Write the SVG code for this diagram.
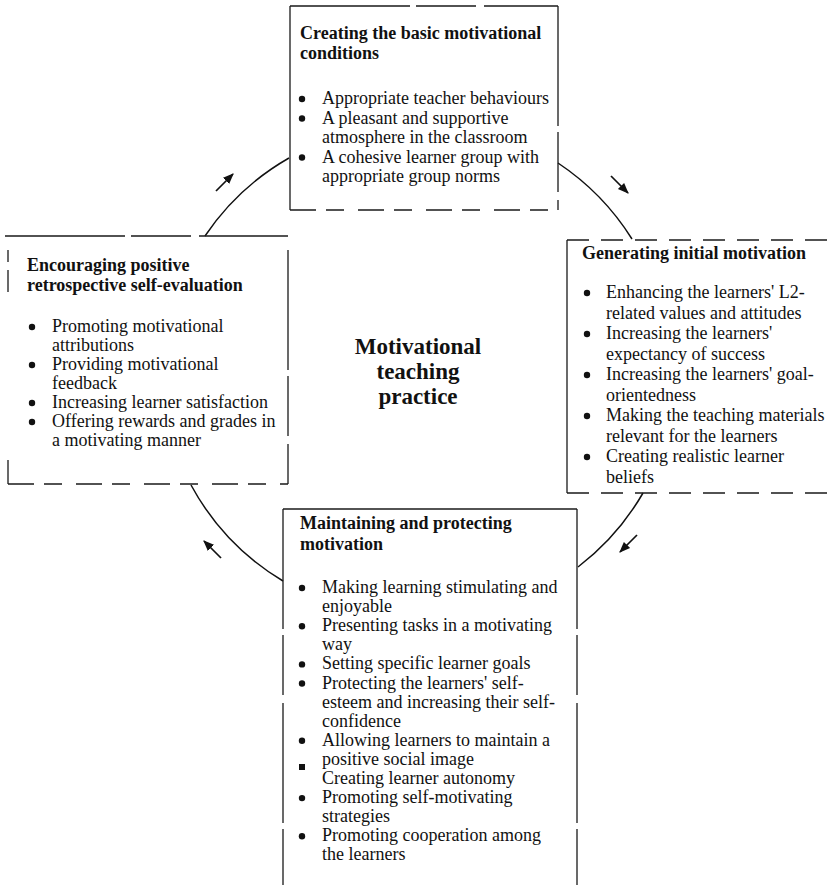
<svg xmlns="http://www.w3.org/2000/svg" width="834" height="885" viewBox="0 0 834 885">
<style>
text{font-family:"Liberation Serif","Times New Roman",serif;fill:#111;}
.t{font-size:18px;font-weight:bold;}
.b{font-size:18px;}
.c{font-size:23px;font-weight:bold;text-anchor:middle;}
.e{stroke:#1a1a1a;stroke-width:1.3;fill:none;}
.d1{stroke-dasharray:26 10 18 14;}
.d2{stroke-dasharray:22 12;}
.d3{stroke-dasharray:120 6 60 8;}
.arc{stroke:#111;stroke-width:1.5;fill:none;}
.ar{stroke:#111;stroke-width:1.7;marker-end:url(#ah);}
.bu{fill:#111;}
</style>
<defs>
<marker id="ah" viewBox="0 0 10 10" markerWidth="11" markerHeight="11" markerUnits="userSpaceOnUse" refX="9" refY="5" orient="auto">
<path d="M0,1 L10,5 L0,9 z" fill="#111"/>
</marker>
</defs>
<rect width="834" height="885" fill="#fff"/>

<g id="connectors">
<path class="arc" d="M205,236 A252,252 0 0 1 289,158"/>
<path class="arc" d="M558,163 A252,252 0 0 1 632,239"/>
<path class="arc" d="M643,493 A252,252 0 0 1 578,567"/>
<path class="arc" d="M283,581 A252,252 0 0 1 191,485"/>
<line class="ar" x1="216" y1="191" x2="233" y2="174"/>
<line class="ar" x1="611" y1="176" x2="628" y2="193"/>
<line class="ar" x1="637" y1="535" x2="620" y2="552"/>
<line class="ar" x1="221" y1="558" x2="204" y2="541"/>
</g>

<g id="node-top">
<line class="e d3" x1="290" y1="6" x2="558" y2="6"/>
<line class="e" x1="290" y1="6" x2="290" y2="210"/>
<line class="e d3" x1="558" y1="6" x2="558" y2="210"/>
<line class="e d1" x1="290" y1="210" x2="558" y2="210"/>
<text class="t" x="300" y="39">Creating the basic motivational</text>
<text class="t" x="300" y="59">conditions</text>
<circle class="bu" cx="302" cy="99" r="3.2"/>
<text class="b" x="322" y="104">Appropriate teacher behaviours</text>
<circle class="bu" cx="302" cy="118.5" r="3.2"/>
<text class="b" x="322" y="123.5">A pleasant and supportive</text>
<text class="b" x="322" y="143">atmosphere in the classroom</text>
<circle class="bu" cx="302" cy="157.5" r="3.2"/>
<text class="b" x="322" y="162.5">A cohesive learner group with</text>
<text class="b" x="322" y="182">appropriate group norms</text>
</g>

<g id="node-left">
<line class="e d3" x1="5" y1="236" x2="288" y2="236"/>
<path class="e" d="M8,250 V262 M8,270 V292 M8,460 V484"/>
<line class="e d3" x1="288" y1="250" x2="288" y2="484"/>
<line class="e d1" x1="8" y1="484" x2="288" y2="484"/>
<text class="t" x="27" y="271">Encouraging positive</text>
<text class="t" x="27" y="291">retrospective self-evaluation</text>
<circle class="bu" cx="32" cy="327" r="3.2"/>
<text class="b" x="52" y="332">Promoting motivational</text>
<text class="b" x="52" y="351">attributions</text>
<circle class="bu" cx="32" cy="365" r="3.2"/>
<text class="b" x="52" y="370">Providing motivational</text>
<text class="b" x="52" y="389">feedback</text>
<circle class="bu" cx="32" cy="403" r="3.2"/>
<text class="b" x="52" y="408">Increasing learner satisfaction</text>
<circle class="bu" cx="32" cy="422" r="3.2"/>
<text class="b" x="52" y="427">Offering rewards and grades in</text>
<text class="b" x="52" y="446">a motivating manner</text>
</g>

<g id="node-right">
<line class="e d2" x1="567" y1="240" x2="834" y2="240"/>
<line class="e" x1="567" y1="240" x2="567" y2="493"/>
<line class="e d2" x1="567" y1="493" x2="834" y2="493"/>
<text class="t" x="582" y="259">Generating initial motivation</text>
<circle class="bu" cx="587" cy="293" r="3.2"/>
<text class="b" x="606" y="298">Enhancing the learners' L2-</text>
<text class="b" x="606" y="318.5">related values and attitudes</text>
<circle class="bu" cx="587" cy="334" r="3.2"/>
<text class="b" x="606" y="339">Increasing the learners'</text>
<text class="b" x="606" y="359.5">expectancy of success</text>
<circle class="bu" cx="587" cy="375" r="3.2"/>
<text class="b" x="606" y="380">Increasing the learners' goal-</text>
<text class="b" x="606" y="400.5">orientedness</text>
<circle class="bu" cx="587" cy="416" r="3.2"/>
<text class="b" x="606" y="421">Making the teaching materials</text>
<text class="b" x="606" y="441.5">relevant for the learners</text>
<circle class="bu" cx="587" cy="457" r="3.2"/>
<text class="b" x="606" y="462">Creating realistic learner</text>
<text class="b" x="606" y="482.5">beliefs</text>
</g>

<g id="node-bottom">
<line class="e" x1="283" y1="509" x2="577" y2="509"/>
<line class="e d3" x1="283" y1="509" x2="283" y2="885"/>
<line class="e d3" x1="577" y1="509" x2="577" y2="885"/>
<text class="t" x="300" y="529">Maintaining and protecting</text>
<text class="t" x="300" y="550">motivation</text>
<circle class="bu" cx="302" cy="588" r="3.2"/>
<text class="b" x="322" y="593">Making learning stimulating and</text>
<text class="b" x="322" y="612.1">enjoyable</text>
<circle class="bu" cx="302" cy="626.2" r="3.2"/>
<text class="b" x="322" y="631.2">Presenting tasks in a motivating</text>
<text class="b" x="322" y="650.3">way</text>
<circle class="bu" cx="302" cy="664.4" r="3.2"/>
<text class="b" x="322" y="669.4">Setting specific learner goals</text>
<circle class="bu" cx="302" cy="683.5" r="3.2"/>
<text class="b" x="322" y="688.5">Protecting the learners' self-</text>
<text class="b" x="322" y="707.6">esteem and increasing their self-</text>
<text class="b" x="322" y="726.7">confidence</text>
<circle class="bu" cx="302" cy="740.8" r="3.2"/>
<text class="b" x="322" y="745.8">Allowing learners to maintain a</text>
<text class="b" x="322" y="764.9">positive social image</text>
<rect class="bu" x="299" y="764" width="6" height="6"/>
<text class="b" x="322" y="784">Creating learner autonomy</text>
<circle class="bu" cx="302" cy="798.1" r="3.2"/>
<text class="b" x="322" y="803.1">Promoting self-motivating</text>
<text class="b" x="322" y="822.2">strategies</text>
<circle class="bu" cx="302" cy="836.3" r="3.2"/>
<text class="b" x="322" y="841.3">Promoting cooperation among</text>
<text class="b" x="322" y="860.4">the learners</text>
</g>

<g id="node-center">
<text class="c" x="418" y="354">Motivational</text>
<text class="c" x="418" y="379">teaching</text>
<text class="c" x="418" y="404">practice</text>
</g>
</svg>
